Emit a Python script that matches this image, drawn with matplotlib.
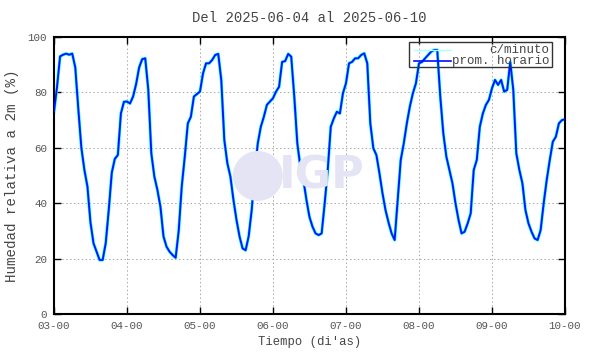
import matplotlib
matplotlib.use('Agg')
import matplotlib.pyplot as plt
from matplotlib.patches import Ellipse, Rectangle
from matplotlib.lines import Line2D

# hourly mean relative humidity (%), one list per day, 24 values each
day1 = [73, 82, 93, 93.6, 94, 93.6, 94, 89, 74, 60, 52, 46,
        33, 25.5, 22.5, 19.5, 19.5, 25.5, 37.5, 51, 56, 57.4, 72.4, 76.6]
day2 = [76.7, 76, 78.5, 83, 89, 92, 92.3, 81, 58, 49.6, 44.8, 38.7,
        28, 24.3, 22.5, 21.3, 20.3, 30, 46, 56.8, 68.8, 71.2, 78.5, 79.4]
day3 = [80.3, 86.9, 90.5, 90.5, 91.7, 93.5, 93.9, 84.5, 62.8, 54.4, 49.6, 41.2,
        34, 28, 23.7, 23, 28, 37.5, 51, 61.6, 67.6, 71.2, 75.5, 76.7]
day4 = [77.9, 80.3, 82, 91, 91.3, 93.9, 92.9, 78.5, 61.6, 53.2, 48.4, 41.2,
        35, 31.5, 29.1, 28.5, 29.1, 40, 52, 67.6, 70.6, 73, 72.4, 79.7]
day5 = [83.3, 90.5, 91, 92.3, 92.3, 93.5, 94.1, 90.5, 68.8, 59.8, 57.4, 50.8,
        43.6, 37.5, 33, 29.1, 26.7, 41.2, 55.6, 61.6, 68.8, 74.9, 79.7, 83.3]
day6 = [90.5, 91, 92.3, 93.5, 94.7, 95.3, 95.3, 78.5, 65.2, 56.8, 52, 47.2,
        40, 34, 29.1, 29.7, 32.7, 36.3, 52, 55.6, 67.6, 72.4, 75.5, 77.3]
day7 = [81.5, 84.5, 82.7, 84.5, 80.3, 80.9, 91, 80.9, 58, 52, 47.2, 37.5,
        32.7, 29.7, 27.3, 26.7, 30.3, 40, 48.4, 55.6, 62.2, 64, 68.8, 70]
last_value = 70.3

tick_labels = ['03-00', '04-00', '05-00', '06-00', '07-00', '08-00', '09-00', '10-00']
y_ticks = [0, 20, 40, 60, 80, 100]

hourly = day1 + day2 + day3 + day4 + day5 + day6 + day7 + [last_value]
t = [i / 24.0 for i in range(len(hourly))]

mono = 'Liberation Mono'
txt = '#454545'

fig = plt.figure(figsize=(5.9, 3.54), dpi=100)
ax = fig.add_axes([0.0915, 0.113, 0.8661, 0.7825])

# watermark logo, behind everything (ellipse sized so it looks round)
logo = Ellipse((0.437, 0.503), 50 / 590, 50 / 354, transform=fig.transFigure,
               facecolor='#e4e4f5', edgecolor='none', zorder=0)
fig.patches.append(logo)
fig.text(0.545, 0.503, 'IGP', fontsize=32, fontweight='bold', color='#e4e4f5',
         ha='center', va='center', family='DejaVu Sans', zorder=0)
ax.patch.set_alpha(0)

# per-minute series is not readable: shown as a cyan band under the hourly mean
ax.plot(t, hourly, color='#00ffff', lw=2.2, zorder=2)
ax.plot(t, hourly, color='#0a0aff', lw=1.3, zorder=3)

ax.set_xlim(0, 7)
ax.set_ylim(0, 100)
ax.set_xticks(range(len(tick_labels)))
ax.set_xticklabels(tick_labels)
ax.set_yticks(y_ticks)
ax.grid(True, color='#a8a8a8', lw=0.7, linestyle=(0, (1.5, 2.5)))
ax.tick_params(direction='in', length=5, width=1, top=True, right=True,
               labelsize=7.8, labelcolor='#555555', pad=5)
for lab in ax.get_xticklabels() + ax.get_yticklabels():
    lab.set_family(mono)
for s in ax.spines.values():
    s.set_linewidth(1.5)

ax.set_title('Del 2025-06-04 al 2025-06-10', family=mono, fontsize=10,
             color=txt, pad=11)
ax.set_xlabel("Tiempo (di'as)", family=mono, fontsize=8.8, color=txt, labelpad=4)
ax.set_ylabel('Humedad relativa a 2m (%)', family=mono, fontsize=10.2, color=txt,
              labelpad=6)

# gnuplot style key: sample on the left, text right aligned, no fill
box = Rectangle((0.695, 0.89), 0.28, 0.093, transform=ax.transAxes,
                facecolor='none', edgecolor='#333333', lw=1, zorder=4)
ax.add_patch(box)
ax.add_line(Line2D([0.705, 0.777], [0.954, 0.954], transform=ax.transAxes,
                   color='#aaffff', lw=1, zorder=5))
ax.add_line(Line2D([0.705, 0.777], [0.912, 0.912], transform=ax.transAxes,
                   color='#0a0aff', lw=1.2, zorder=5))
ax.text(0.97, 0.954, 'c/minuto', transform=ax.transAxes, ha='right', va='center',
        family=mono, fontsize=9, color=txt, zorder=5)
ax.text(0.97, 0.912, 'prom. horario', transform=ax.transAxes, ha='right',
        va='center', family=mono, fontsize=9, color=txt, zorder=5)

fig.savefig('out.png', dpi=100)
plt.close(fig)
